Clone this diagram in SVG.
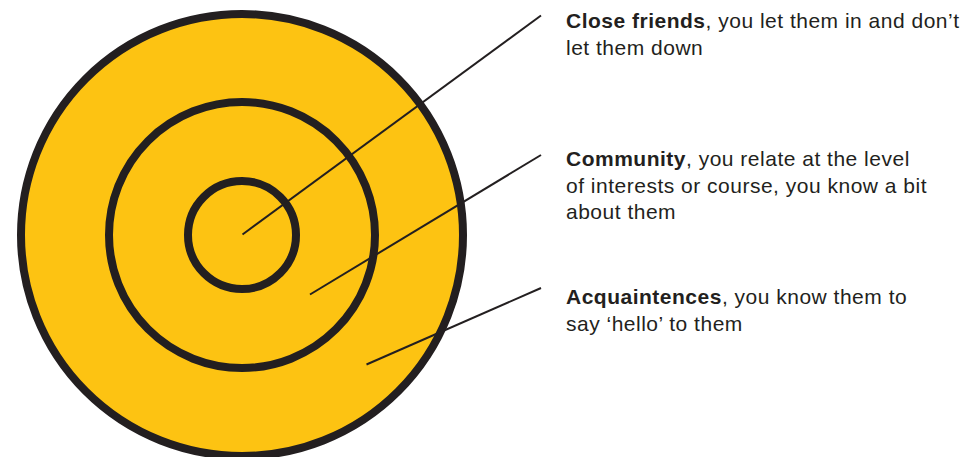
<svg xmlns="http://www.w3.org/2000/svg" width="966" height="457" viewBox="0 0 966 457">
<style>
.ring{fill:none;stroke:#231f20;stroke-width:8}
.lead{stroke:#231f20;stroke-width:2;fill:none}
.t{font-family:"Liberation Sans",Arial,sans-serif;font-size:21px;letter-spacing:0.5px;fill:#231f20}
.b{font-weight:bold}
</style>
<rect width="966" height="457" fill="#ffffff"/>
<g id="acquaintances">
<circle cx="242" cy="235" r="221" fill="#fdc312" stroke="#231f20" stroke-width="8"/>
</g>
<g id="community">
<circle class="ring" cx="242" cy="235" r="133"/>
</g>
<g id="close-friends">
<circle class="ring" cx="242" cy="235" r="54"/>
</g>
<g id="connectors">
<line class="lead" x1="242.5" y1="234.5" x2="541" y2="15.5"/>
<line class="lead" x1="310" y1="294.5" x2="541" y2="155"/>
<line class="lead" x1="366.5" y1="364.5" x2="541" y2="288"/>
</g>
<g id="label-close">
<text class="t" x="566" y="28"><tspan class="b">Close friends</tspan>, you let them in and don’t</text>
<text class="t" x="566" y="55">let them down</text>
</g>
<g id="label-community">
<text class="t" x="566" y="166"><tspan class="b">Community</tspan>, you relate at the level</text>
<text class="t" x="566" y="192.5">of interests or course, you know a bit</text>
<text class="t" x="566" y="219">about them</text>
</g>
<g id="label-acq">
<text class="t" x="566" y="304"><tspan class="b">Acquaintences</tspan>, you know them to</text>
<text class="t" x="566" y="330.5">say ‘hello’ to them</text>
</g>
</svg>
